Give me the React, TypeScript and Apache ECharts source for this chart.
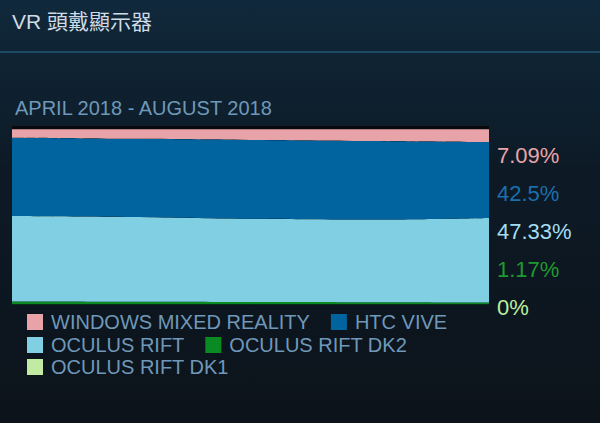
import React, { useEffect, useRef } from 'react';
import * as echarts from 'echarts';

const months = ['APRIL 2018', 'MAY 2018', 'JUNE 2018', 'JULY 2018', 'AUGUST 2018'];

const wmr = [4.7, 5.3, 5.9, 6.5, 7.09];
const htcVive = [43.9, 43.8, 44.2, 44.0, 42.5];
const oculusRift = [47.9, 47.5, 46.6, 46.3, 47.33];
const riftDk2 = [1.6, 1.5, 1.4, 1.3, 1.17];
const riftDk1 = [0.05, 0.03, 0.02, 0.01, 0];

const names = ['WINDOWS MIXED REALITY', 'HTC VIVE', 'OCULUS RIFT', 'OCULUS RIFT DK2', 'OCULUS RIFT DK1'];
const areaColors = ['#e7a3a7', '#01649f', '#80cfe3', '#0a8a22', '#c1eba3'];
const labelColors = ['#e9a5a9', '#1b6fad', '#a3def0', '#1f9a2e', '#bdeea0'];

const FONT = '"Liberation Sans", Arial, "Noto Sans CJK TC", sans-serif';

const VrHeadsets: React.FC = () => {
  const chartRef = useRef<HTMLDivElement>(null);

  useEffect(() => {
    if (!chartRef.current) return;
    const myChart = echarts.init(chartRef.current, undefined, { renderer: 'svg' });

    // stacking goes bottom-up, legend is listed top-down
    const stackData = [riftDk1, riftDk2, oculusRift, htcVive, wmr];
    const stackNames = [names[4], names[3], names[2], names[1], names[0]];
    const stackColors = [areaColors[4], areaColors[3], areaColors[2], areaColors[1], areaColors[0]];

    const lastValues = [wmr, htcVive, oculusRift, riftDk2, riftDk1].map((arr) => arr[arr.length - 1]);

    const legendBase = {
      left: 22,
      orient: 'horizontal' as const,
      itemWidth: 16,
      itemHeight: 16,
      itemGap: 21,
      icon: 'rect',
      textStyle: {
        color: '#6f98b9',
        fontSize: 20,
        fontFamily: FONT,
        lineHeight: 16,
        padding: [0, 0, 0, 3],
      },
    };

    const option: echarts.EChartsOption = {
      animation: false,
      backgroundColor: {
        type: 'linear',
        x: 0,
        y: 0,
        x2: 0,
        y2: 1,
        colorStops: [
          { offset: 0, color: '#10293c' },
          { offset: 0.12, color: '#0f2434' },
          { offset: 0.4, color: '#0d1a26' },
          { offset: 1, color: '#0c131a' },
        ],
      },
      title: [
        {
          text: 'VR 頭戴顯示器',
          left: 7,
          top: 6,
          textStyle: { color: '#cfdbe5', fontSize: 21, fontWeight: 'normal', fontFamily: FONT },
        },
        {
          text: 'APRIL 2018 - AUGUST 2018',
          left: 10,
          top: 93,
          textStyle: { color: '#6f98b9', fontSize: 20, fontWeight: 'normal', fontFamily: FONT },
        },
      ],
      legend: [
        { ...legendBase, top: 307, data: [names[0], names[1]] },
        { ...legendBase, top: 330, data: [names[2], names[3]] },
        { ...legendBase, top: 352, data: [names[4]] },
      ],
      grid: {
        left: 12,
        right: 111,
        top: 126,
        bottom: 118.5,
        show: true,
        backgroundColor: '#07090c',
        borderWidth: 0,
      },
      xAxis: {
        type: 'category',
        boundaryGap: false,
        data: months,
        show: false,
      },
      yAxis: {
        type: 'value',
        min: 0,
        max: 100,
        show: false,
      },
      graphic: [
        {
          type: 'rect',
          shape: { x: 0, y: 51, width: 600, height: 2 },
          style: { fill: '#1e4a66' },
          silent: true,
        },
        ...lastValues.map((v, i) => ({
          type: 'text' as const,
          left: 497,
          top: 144 + i * 38,
          style: {
            text: `${v}%`,
            fill: labelColors[i],
            font: `22px ${FONT}`,
          },
        })),
      ],
      series: stackData.map((data, i) => ({
        name: stackNames[i],
        type: 'line' as const,
        stack: 'share',
        smooth: 0.4,
        symbol: 'none',
        data,
        color: stackColors[i],
        lineStyle: { width: 0 },
        areaStyle: { color: stackColors[i], opacity: 1 },
      })),
    };

    myChart.setOption(option);

    return () => {
      myChart.dispose();
    };
  }, []);

  return (
    <div
      ref={chartRef}
      style={{ position: 'fixed', left: 0, top: 0, width: '600px', height: '423px' }}
    />
  );
};

export default function App() {
  return <VrHeadsets />;
}
